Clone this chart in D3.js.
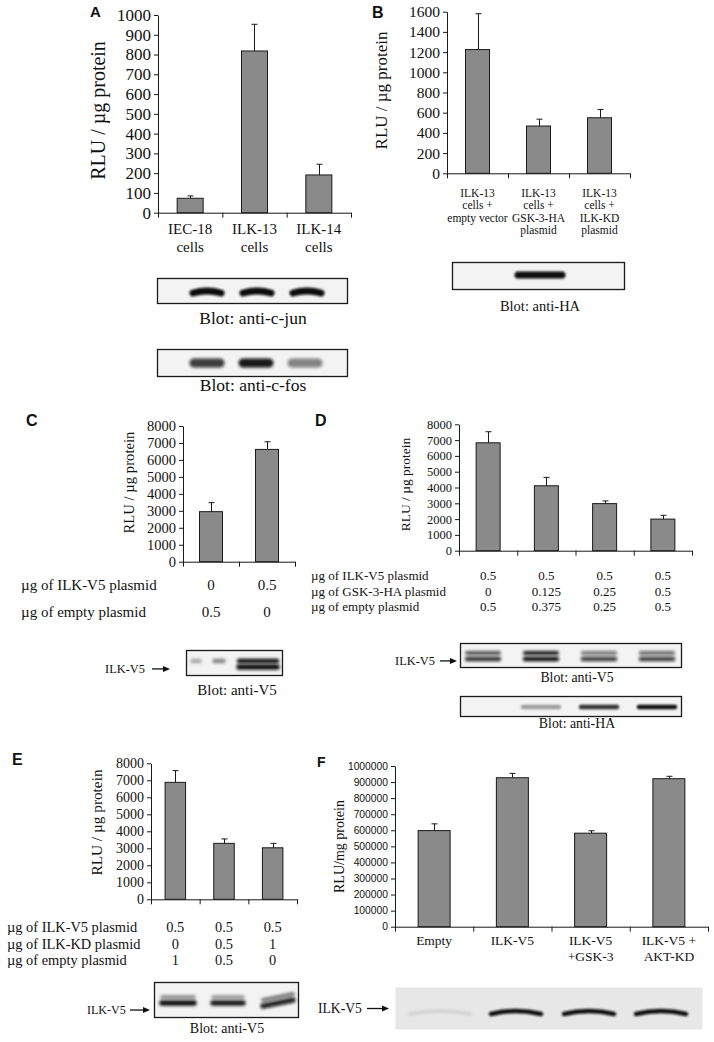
<!DOCTYPE html>
<html><head><meta charset="utf-8">
<script src="https://cdn.jsdelivr.net/npm/d3@7"></script>
<style>html,body{margin:0;padding:0;background:#fff;}svg{display:block;}</style>
</head><body>
<script>
// ---------------- DATA ----------------
const catsA = [["IEC-18","cells"],["ILK-13","cells"],["ILK-14","cells"]];
const valsA = [73, 818, 191];
const errA  = [12, 135, 54];
const ticksA = [0,100,200,300,400,500,600,700,800,900,1000];

const catsB = [["ILK-13","cells +","empty vector"],["ILK-13","cells +","GSK-3-HA","plasmid"],["ILK-13","cells +","ILK-KD","plasmid"]];
const valsB = [1225, 468, 550];
const errB  = [355, 68, 82];
const ticksB = [0,200,400,600,800,1000,1200,1400,1600];

const valsC = [2950, 6620];
const errC  = [530, 450];
const ticksC = [0,1000,2000,3000,4000,5000,6000,7000,8000];
const rowNamesC = ["µg of ILK-V5 plasmid","µg of empty plasmid"];
const rowValsC = [["0","0.5"],["0.5","0"]];

const valsD = [6830, 4110, 2980, 2000];
const errD  = [700, 530, 170, 240];
const ticksD = [0,1000,2000,3000,4000,5000,6000,7000,8000];
const rowNamesD = ["µg of ILK-V5 plasmid","µg of GSK-3-HA plasmid","µg of empty plasmid"];
const rowValsD = [["0.5","0.5","0.5","0.5"],["0","0.125","0.25","0.5"],["0.5","0.375","0.25","0.5"]];

const valsE = [6880, 3290, 3030];
const errE  = [690, 260, 260];
const ticksE = [0,1000,2000,3000,4000,5000,6000,7000,8000];
const rowNamesE = ["µg of ILK-V5 plasmid","µg of ILK-KD plasmid","µg of empty plasmid"];
const rowValsE = [["0.5","0.5","0.5"],["0","0.5","1"],["1","0.5","0"]];

const catsF = [["Empty"],["ILK-V5"],["ILK-V5","+GSK-3"],["ILK-V5 +","AKT-KD"]];
const valsF = [598000, 927000, 582000, 921000];
const errF  = [42000, 27000, 15000, 15000];
const ticksF = [0,100000,200000,300000,400000,500000,600000,700000,800000,900000,1000000];

// blot band intensities (0 = none, 1 = darkest)
const blotAjun = [1, 1, 1];
const blotAfos = [0.8, 0.95, 0.5];
const blotB = [0, 1, 0];
const blotCupper = [0.3, 0.45, 1];
const blotClower = [0, 0, 1];
const blotDv5upper = [0.7, 0.95, 0.55, 0.6];
const blotDv5lower = [0.85, 1, 0.8, 0.8];
const blotDha = [0, 0.35, 0.85, 1];
const blotEupper = [0.45, 0.4, 0.6];
const blotElower = [1, 0.95, 0.9];
const blotF = [0.08, 1, 1, 1];

// ---------------- DRAW ----------------
const SERIF = "'Liberation Serif','Times New Roman',serif";
const SANS = "'Liberation Sans',Arial,sans-serif";
const INK = "#111";
const W = 714, H = 1042;
const svg = d3.select("body").append("svg").attr("width", W).attr("height", H)
  .attr("font-family", SERIF).attr("fill", INK);
svg.append("rect").attr("width", W).attr("height", H).attr("fill", "#fff");
const defs = svg.append("defs");
[["blur", 1.1], ["blur2", 1.6]].forEach(([id, sd]) => {
  defs.append("filter").attr("id", id).attr("filterUnits", "userSpaceOnUse")
    .attr("x", 0).attr("y", 0).attr("width", W).attr("height", H)
    .append("feGaussianBlur").attr("stdDeviation", sd);
});

function panelLetter(t, x, y, size) {
  svg.append("text").attr("x", x).attr("y", y).attr("font-family", SANS).attr("font-weight", "bold")
    .attr("font-size", size).text(t);
}

function barPanel(o) {
  const g = svg.append("g");
  const n = o.vals.length;
  const y = d3.scaleLinear().domain([0, o.max]).range([o.y0, o.yTop]);
  const x = d3.scaleBand().domain(d3.range(n)).range([o.x0, o.x1]).padding(0);
  const xb = d3.scaleLinear().domain([0, n]).range([o.x0, o.x1]);
  g.selectAll("rect.bar").data(o.vals).join("rect").attr("class","bar")
    .attr("x", (d,i) => x(i) + (x.bandwidth() - o.barW)/2)
    .attr("width", o.barW)
    .attr("y", d => y(d)).attr("height", d => y(0) - y(d))
    .attr("fill", "#8a8a8a").attr("stroke", "#1a1a1a").attr("stroke-width", 1);
  const eg = g.append("g").attr("stroke", "#1a1a1a").attr("stroke-width", 1);
  o.vals.forEach((v,i) => {
    const cx = Math.round(x(i) + x.bandwidth()/2) + 0.5;
    eg.append("line").attr("x1", cx).attr("x2", cx).attr("y1", y(v)).attr("y2", y(v + o.errs[i]));
    eg.append("line").attr("x1", cx - o.cap).attr("x2", cx + o.cap).attr("y1", y(v + o.errs[i])).attr("y2", y(v + o.errs[i]));
  });
  const ya = g.append("g").attr("transform", `translate(${o.x0},0)`)
    .call(d3.axisLeft(y).tickValues(o.ticks).tickFormat(d3.format("d")).tickSize(4).tickSizeOuter(0).tickPadding(o.tickPad || 3));
  ya.attr("font-size", o.tickSize).attr("font-family", o.tickFamily || SERIF).attr("color", "#1a1a1a");
  ya.selectAll("text").attr("fill", INK);
  const xa = g.append("g").attr("transform", `translate(0,${o.y0})`)
    .call(d3.axisBottom(xb).tickValues(d3.range(n + 1)).tickFormat("").tickSize(5).tickSizeOuter(0));
  xa.attr("color", "#1a1a1a");
  svg.append("text").attr("transform", `translate(${o.labX},${o.labY}) rotate(-90)`)
    .attr("text-anchor", "middle").attr("dy", "0.35em").attr("font-size", o.labSize)
    .attr("font-family", o.labFamily || SERIF).text(o.label);
  if (o.cats) {
    o.cats.forEach((lines, i) => {
      const t = svg.append("text").attr("text-anchor", "middle").attr("font-size", o.catSize);
      lines.forEach((ln, j) => {
        t.append("tspan").attr("x", x(i) + x.bandwidth()/2).attr("y", o.catY + j*o.catLH).text(ln);
      });
    });
  }
  if (o.rowNames) {
    o.rowNames.forEach((nm, r) => {
      const by = o.rowY + r*o.rowLH;
      svg.append("text").attr("x", o.rowX).attr("y", by).attr("font-size", o.rowSize).text(nm);
      o.rowVals[r].forEach((v, i) => {
        svg.append("text").attr("x", x(i) + x.bandwidth()/2).attr("y", by)
          .attr("text-anchor", "middle").attr("font-size", o.rowSize).text(v);
      });
    });
  }
  return {x, y};
}

function blotBox(x1, y1, x2, y2, opt={}) {
  svg.append("rect").attr("x", x1 + 0.5).attr("y", y1 + 0.5).attr("width", x2 - x1).attr("height", y2 - y1)
    .attr("fill", opt.fill || "#f3f3f3").attr("stroke", opt.noStroke ? "none" : "#1a1a1a").attr("stroke-width", 1.3);
}
function bands(lanes, intens, cy, w, h, opt={}) {
  const g = svg.append("g").attr("filter", opt.soft ? "url(#blur2)" : "url(#blur)");
  intens.forEach((v, i) => {
    if (v <= 0) return;
    const cx = lanes(i), ww = Array.isArray(w) ? w[i] : w;
    const arch = opt.arch || 0, tilt = opt.tilt ? opt.tilt[i] : 0;
    const p = d3.path();
    p.moveTo(cx - ww/2, cy + arch + tilt);
    p.quadraticCurveTo(cx, cy - arch, cx + ww/2, cy + arch - tilt);
    g.append("path").attr("d", p.toString()).attr("fill", "none")
      .attr("stroke", "#0d0d0d").attr("stroke-opacity", v).attr("stroke-width", h)
      .attr("stroke-linecap", "round");
  });
}
function blotLabel(t, cx, y, size) {
  svg.append("text").attr("x", cx).attr("y", y).attr("text-anchor", "middle").attr("font-size", size).text(t);
}
function arrowLabel(t, x, y, ax1, ax2, size) {
  svg.append("text").attr("x", x).attr("y", y).attr("font-size", size).text(t);
  const ay = y - size*0.33;
  svg.append("line").attr("x1", ax1).attr("x2", ax2 - 5).attr("y1", ay).attr("y2", ay)
    .attr("stroke", INK).attr("stroke-width", 1.3);
  svg.append("path").attr("d", `M${ax2},${ay} L${ax2-7},${ay-3} L${ax2-7},${ay+3} Z`).attr("fill", INK);
}

// ---- Panel A ----
panelLetter("A", 90, 17, 15);
barPanel({vals: valsA, errs: errA, ticks: ticksA, max: 1000, x0: 158, x1: 351, yTop: 15, y0: 212.7,
  barW: 26, cap: 3, tickSize: 17, label: "RLU / µg protein", labX: 98, labY: 110.5, labSize: 20,
  cats: catsA, catSize: 15, catY: 234, catLH: 18});
blotBox(157, 278, 347, 303);
bands(d3.scalePoint().domain(d3.range(3)).range([207, 307]), blotAjun, 291, 28, 7, {arch: 2});
blotLabel("Blot: anti-c-jun", 253, 324, 17.5);
blotBox(157, 349, 347, 376);
bands(d3.scalePoint().domain(d3.range(3)).range([207, 305]), blotAfos, 363, 26, 9, {soft: true});
blotLabel("Blot: anti-c-fos", 253, 391, 17.5);

// ---- Panel B ----
panelLetter("B", 372, 18, 16);
barPanel({vals: valsB, errs: errB, ticks: ticksB, max: 1600, x0: 447, x1: 630, yTop: 11.7, y0: 173.3,
  barW: 24, cap: 3, tickSize: 15.5, label: "RLU / µg protein", labX: 381, labY: 90.5, labSize: 17,
  cats: catsB, catSize: 11.5, catY: 196.5, catLH: 12.6});
blotBox(452, 262, 624, 289);
bands(d3.scalePoint().domain(d3.range(3)).range([482, 598]), blotB, 275, 44, 7);
blotLabel("Blot: anti-HA", 540, 311, 14.5);

// ---- Panel C ----
panelLetter("C", 26, 426, 16);
barPanel({vals: valsC, errs: errC, ticks: ticksC, max: 8000, x0: 183, x1: 295, yTop: 426, y0: 561.7,
  barW: 23, cap: 3, tickSize: 14.5, label: "RLU / µg protein", labX: 129, labY: 482.5, labSize: 14.7,
  rowNames: rowNamesC, rowVals: rowValsC, rowX: 21, rowY: 590, rowLH: 27, rowSize: 15});
blotBox(186, 650, 282, 675);
const laneC = d3.scaleOrdinal().domain([0,1,2]).range([196, 219, 258]);
bands(laneC, blotCupper, 661, [7, 9, 38], 4.5, {soft: true});
bands(laneC, blotClower, 667, [7, 9, 38], 5.5, {soft: true});
arrowLabel("ILK-V5", 105, 673, 152, 170, 12.4);
blotLabel("Blot: anti-V5", 237, 695, 15);

// ---- Panel D ----
panelLetter("D", 315, 426, 16);
barPanel({vals: valsD, errs: errD, ticks: ticksD, max: 8000, x0: 459, x1: 692, yTop: 424.3, y0: 550.7,
  barW: 24, cap: 3, tickSize: 12.5, label: "RLU / µg protein", labX: 405, labY: 484.5, labSize: 13.5,
  rowNames: rowNamesD, rowVals: rowValsD, rowX: 311, rowY: 580, rowLH: 15.5, rowSize: 13});
const laneD = d3.scalePoint().domain(d3.range(4)).range([483, 657]);
blotBox(460, 643, 681, 667);
bands(laneD, blotDv5upper, 653, 32, 4, {soft: true});
bands(laneD, blotDv5lower, 659, 32, 4.5, {soft: true});
arrowLabel("ILK-V5", 395, 665, 440, 457, 12.4);
blotLabel("Blot: anti-V5", 577, 682, 13.8);
blotBox(460, 696, 681, 716);
bands(laneD, blotDha, 707, 36, 4.5);
blotLabel("Blot: anti-HA", 577, 728, 13.8);

// ---- Panel E ----
panelLetter("E", 12, 765, 16);
barPanel({vals: valsE, errs: errE, ticks: ticksE, max: 8000, x0: 151, x1: 297, yTop: 763.3, y0: 899.3,
  barW: 20.5, cap: 3, tickSize: 14, label: "RLU / µg protein", labX: 97, labY: 822.5, labSize: 15.3,
  rowNames: rowNamesE, rowVals: rowValsE, rowX: 7, rowY: 932, rowLH: 16.5, rowSize: 14.4});
blotBox(154, 982, 298, 1017);
const laneE = d3.scalePoint().domain(d3.range(3)).range([178, 278]);
bands(laneE, blotEupper, 997, [32, 30, 30], 3.5, {tilt: [0, 0, 3], soft: true});
bands(laneE, blotElower, 1003, [32, 30, 30], 5.5, {tilt: [0, 0, 3], soft: true});
arrowLabel("ILK-V5", 87, 1014, 130, 150, 12);
blotLabel("Blot: anti-V5", 227, 1033, 14);

// ---- Panel F ----
panelLetter("F", 317, 767, 14);
barPanel({vals: valsF, errs: errF, ticks: ticksF, max: 1000000, x0: 395, x1: 708, yTop: 766, y0: 926.7,
  barW: 32, cap: 3, tickSize: 10.3, tickFamily: SANS, label: "RLU/mg protein", labX: 339, labY: 846.5, labSize: 14,
  cats: catsF, catSize: 13.5, catY: 945, catLH: 16});
blotBox(395, 987, 702, 1029, {fill: "#e7e7e7", noStroke: true});
const laneF = d3.scaleOrdinal().domain([0,1,2,3]).range([440, 516, 589, 661]);
bands(laneF, blotF, 1011, [60, 50, 50, 50], 4.5, {arch: 3});
arrowLabel("ILK-V5", 318, 1013, 367, 389, 13.6);
</script>
</body></html>
